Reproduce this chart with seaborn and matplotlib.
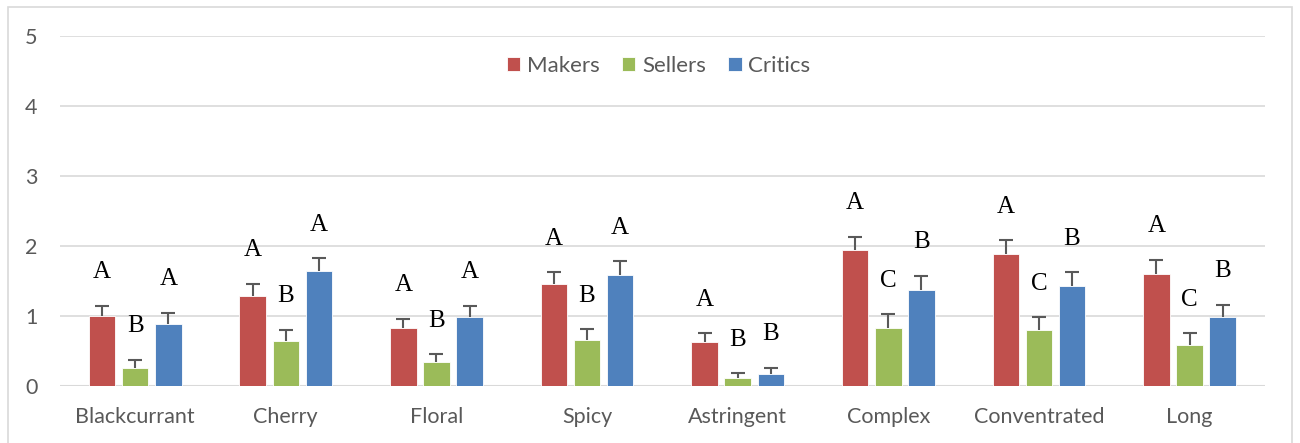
import numpy as np
import pandas as pd
import matplotlib
matplotlib.use('Agg')
import matplotlib.pyplot as plt
import seaborn as sns

# values
attributes = ['Blackcurrant', 'Cherry', 'Floral', 'Spicy', 'Astringent', 'Complex', 'Conventrated', 'Long']
groups = ['Makers', 'Sellers', 'Critics']
makers = [1.00, 1.29, 0.82, 1.45, 0.62, 1.94, 1.88, 1.60]
sellers = [0.26, 0.64, 0.34, 0.65, 0.11, 0.83, 0.80, 0.59]
critics = [0.89, 1.64, 0.99, 1.58, 0.17, 1.37, 1.42, 0.99]
makers_err = [0.14, 0.17, 0.14, 0.17, 0.13, 0.19, 0.20, 0.20]
sellers_err = [0.11, 0.16, 0.11, 0.16, 0.07, 0.19, 0.18, 0.16]
critics_err = [0.15, 0.18, 0.15, 0.20, 0.09, 0.20, 0.20, 0.17]
makers_letters = ['A', 'A', 'A', 'A', 'A', 'A', 'A', 'A']
sellers_letters = ['B', 'B', 'B', 'B', 'B', 'C', 'C', 'C']
critics_letters = ['A', 'A', 'A', 'A', 'B', 'B', 'B', 'B']

colors = ['#C0504D', '#9BBB59', '#4F81BD']

df = pd.DataFrame({
    'attribute': attributes * 3,
    'group': [g for g in groups for _ in attributes],
    'score': makers + sellers + critics,
})
errs = [makers_err, sellers_err, critics_err]
vals = [makers, sellers, critics]
letters = [makers_letters, sellers_letters, critics_letters]

sns.set_style('white')
plt.rcParams['font.family'] = ['Lato', 'DejaVu Sans']

fig = plt.figure(figsize=(13, 4.43), dpi=100)
ax = fig.add_axes([0.046, 0.129, 0.927, 0.790])

sns.barplot(data=df, x='attribute', y='score', hue='group', order=attributes,
            hue_order=groups, palette=colors, saturation=1, width=0.66, gap=0.2,
            errorbar=None, edgecolor='white', linewidth=0.6, ax=ax, zorder=3)

# one-sided error bars and significance letters
bar_sets = list(ax.containers)
for i, cont in enumerate(bar_sets):
    xs = [p.get_x() + p.get_width() / 2 for p in cont.patches]
    eb = ax.errorbar(xs, vals[i], yerr=[np.zeros(len(xs)), errs[i]], fmt='none',
                     ecolor='#595959', elinewidth=1.5, capsize=5, capthick=1.5, zorder=4)
    eb[1][0].set_visible(False)  # no cap at bar top
    for x, v, e, t in zip(xs, vals[i], errs[i], letters[i]):
        ax.text(x, v + e + 0.48, t, ha='center', va='center', fontsize=18,
                family=['Liberation Serif'], color='black')

ax.set_ylim(0, 5)
ax.set_xlim(-0.5, len(attributes) - 0.5)
ax.set_yticks(range(6))
ax.yaxis.grid(True, color='#D9D9D9', linewidth=1.2, zorder=0)
ax.set_axisbelow(True)
for s in ax.spines.values():
    s.set_visible(False)
ax.axhline(0, color='#D9D9D9', linewidth=1.5, zorder=2)
ax.tick_params(axis='both', length=0, labelsize=15.5, labelcolor='#595959')
ax.tick_params(axis='y', pad=16)
ax.tick_params(axis='x', pad=15.5)
ax.set_xlabel('')
ax.set_ylabel('')

ax.legend(loc='center', bbox_to_anchor=(0.497, 0.915), ncol=3, frameon=False,
          fontsize=16, labelcolor='#595959', handlelength=0.6, handleheight=0.6,
          handletextpad=0.3, columnspacing=1.0)

# outer chart border
fig.patches.append(plt.Rectangle((8 / 1300, -0.01), 1284 / 1300, 1 - 7 / 443 + 0.01,
                                 transform=fig.transFigure, fill=False,
                                 edgecolor='#D9D9D9', linewidth=1.2))

fig.savefig('out.png', dpi=100)
